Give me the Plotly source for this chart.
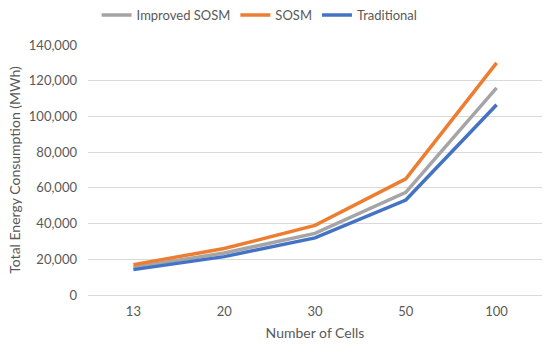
import plotly.graph_objects as go

categories = ["13", "20", "30", "50", "100"]
improved_sosm = [15500, 23500, 34500, 57500, 116000]
sosm = [17000, 26000, 39000, 65000, 130000]
traditional = [14200, 21500, 32000, 53200, 106500]

fig = go.Figure()
series = [
    ("Improved SOSM", improved_sosm, "#A5A5A5"),
    ("SOSM", sosm, "#ED7D31"),
    ("Traditional", traditional, "#4472C4"),
]
for name, vals, col in series:
    fig.add_trace(go.Scatter(x=categories, y=vals, name=name, mode="lines",
                             line=dict(color=col, width=3.5)))

font_fam = "Lato, Open Sans, sans-serif"
fig.update_layout(
    width=550, height=348,
    margin=dict(l=88, r=8, t=45, b=53, autoexpand=False),
    paper_bgcolor="white", plot_bgcolor="white",
    font=dict(family=font_fam, size=13, color="#595959"),
    legend=dict(orientation="h", xref="container", yref="container",
                x=0.472, xanchor="center", y=1.0, yanchor="top",
                font=dict(size=13, color="#595959"),
                itemwidth=30, tracegroupgap=0),
    showlegend=True,
)
fig.update_xaxes(type="category", range=[-0.5, 4.5], automargin=False,
                 showgrid=False, showline=False, zeroline=False,
                 ticks="", ticklabelstandoff=7, tickfont=dict(size=13, color="#595959"),
                 title=dict(text="Number of Cells", font=dict(size=14, color="#595959"), standoff=10))
fig.update_yaxes(range=[0, 140000], dtick=20000, tickformat=",", automargin=False,
                 showgrid=True, gridcolor="#D9D9D9", gridwidth=1,
                 zeroline=True, zerolinecolor="#D9D9D9", zerolinewidth=1,
                 showline=False, ticks="", ticklabelstandoff=10,
                 tickfont=dict(size=13, color="#595959"),
                 title=dict(text="Total Energy Consumption (MWh)", font=dict(size=14, color="#595959"), standoff=4))

fig.write_html("out.html", config={"displayModeBar": False},
               post_script="document.body.style.margin='0';")
